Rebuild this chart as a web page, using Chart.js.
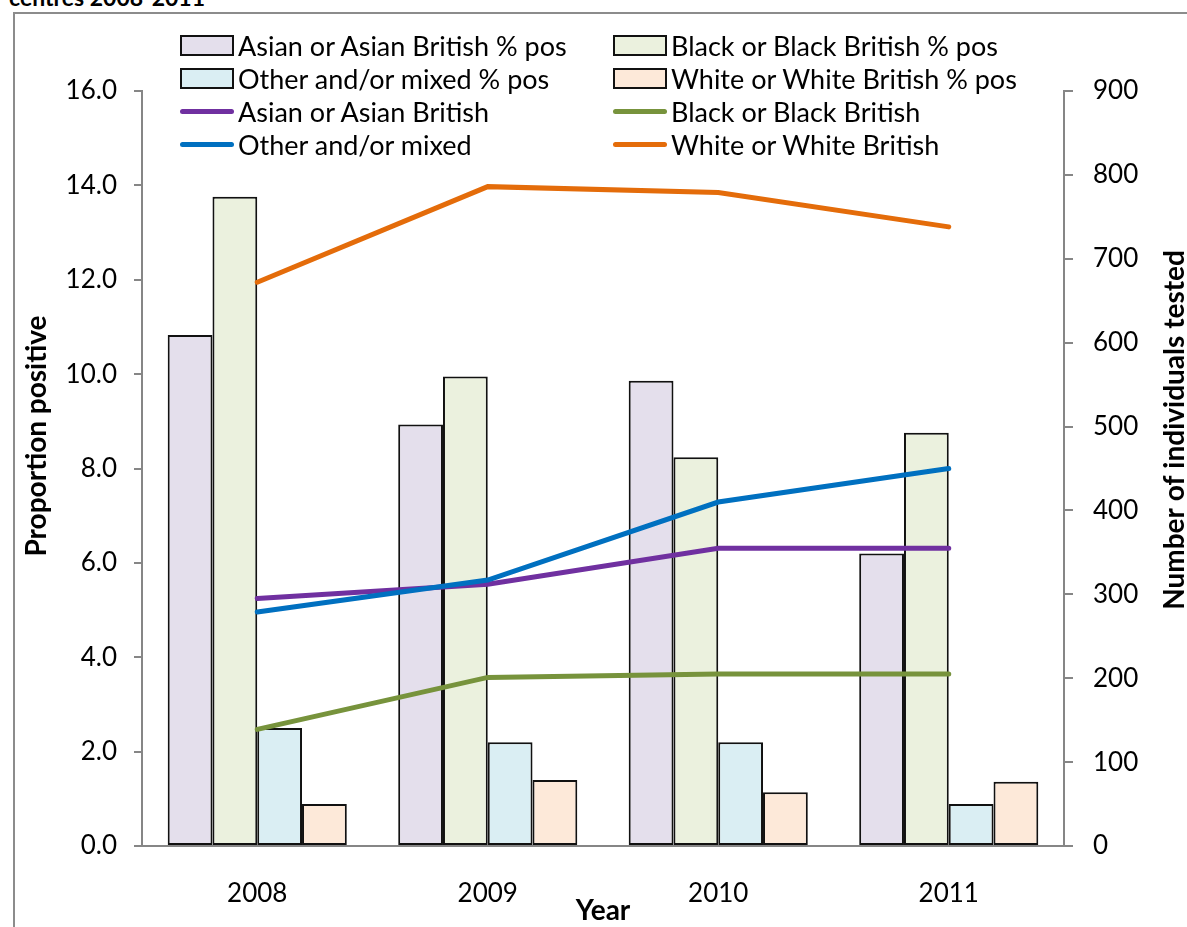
<!DOCTYPE html>
<html>
<head>
<meta charset="utf-8">
<script src="https://cdn.jsdelivr.net/npm/chart.js@4.4.1/dist/chart.umd.min.js"></script>
<style>
  body { margin: 0; background: #fff; font-family: Lato, sans-serif; }
  #wrap { position: relative; width: 1187px; height: 927px; overflow: hidden; }
  #frame { position: absolute; left: 13px; top: 12px; width: 1200px; height: 940px;
           border-left: 2px solid #8c8c8c; border-top: 2px solid #8c8c8c; }
  #caption { position: absolute; left: 9px; top: -14px; font: bold 23px/22px Lato, sans-serif; color: #000; }
  #chart { position: absolute; left: 0; top: 0; }
  #legend { position: absolute; left: 0; top: 0; }
  .item { position: absolute; height: 30px; display: flex; align-items: center; font-size: 27px; white-space: nowrap; color: #000; }
  .box { width: 50px; height: 17px; border: 2px solid #111; margin-right: 4px; }
  .stroke { width: 54px; height: 5px; border-radius: 3px; margin-right: 4px; }
</style>
</head>
<body>
<div id="wrap">
  <div id="frame"></div>
  <div id="caption">centres 2008-2011</div>
  <canvas id="chart" width="1187" height="927"></canvas>
  <div id="legend"></div>
</div>
<script>
const years = ["2008", "2009", "2010", "2011"];

// proportion positive (%), left axis
const asianPos = [10.83, 8.93, 9.86, 6.20];
const blackPos = [13.76, 9.95, 8.24, 8.76];
const otherPos = [2.50, 2.20, 2.20, 0.89];
const whitePos = [0.89, 1.40, 1.14, 1.36];

// number of individuals tested, right axis
const asianTested = [295, 312, 355, 355];
const blackTested = [139, 201, 205, 205];
const otherTested = [279, 317, 410, 450];
const whiteTested = [672, 786, 779, 738];

const leftTicks = [0, 2, 4, 6, 8, 10, 12, 14, 16];
const rightTicks = [0, 100, 200, 300, 400, 500, 600, 700, 800, 900];

const axisGrey = "#868686";
const tickFont = { family: "Lato", size: 26 };
const titleFont = { family: "Lato", size: 28, weight: "bold", lineHeight: 1 };

const bar = (label, data, color) => ({
  type: "bar", label, data, yAxisID: "y",
  backgroundColor: color, borderColor: "#111", borderWidth: 2, borderSkipped: false,
  categoryPercentage: 0.777, barPercentage: 1.0, order: 10,
});
const line = (label, data, color, order) => ({
  type: "line", label, data, yAxisID: "y1",
  borderColor: color, backgroundColor: color, borderWidth: 5, borderCapStyle: "round",
  tension: 0, pointRadius: 0, fill: false, order,
});

// rotated titles for both value axes (both read bottom-to-top)
const sideTitles = {
  id: "sideTitles",
  afterDraw(chart) {
    const ctx = chart.ctx;
    const draw = (text, x, y) => {
      ctx.save();
      ctx.translate(x, y);
      ctx.rotate(-Math.PI / 2);
      ctx.font = "bold 28px Lato";
      ctx.fillStyle = "#000";
      ctx.textAlign = "center";
      ctx.textBaseline = "middle";
      ctx.fillText(text, 0, 0);
      ctx.restore();
    };
    draw("Proportion positive", 37, 436);
    draw("Number of individuals tested", 1175, 430);
  },
};

const chart = new Chart(document.getElementById("chart").getContext("2d"), {
  data: {
    labels: years,
    datasets: [
      bar("Asian or Asian British % pos", asianPos, "#e4dfec"),
      bar("Black or Black British % pos", blackPos, "#ebf1de"),
      bar("Other and/or mixed % pos", otherPos, "#daeef3"),
      bar("White or White British % pos", whitePos, "#fde9d9"),
      line("Asian or Asian British", asianTested, "#7030a0", 4),
      line("Black or Black British", blackTested, "#77933c", 3),
      line("Other and/or mixed", otherTested, "#0070c0", 2),
      line("White or White British", whiteTested, "#e46c0a", 1),
    ],
  },
  options: {
    responsive: false,
    animation: false,
    layout: { padding: { top: 91, left: 0, right: 0, bottom: 0 } },
    plugins: { legend: { display: false }, tooltip: { enabled: false } },
    scales: {
      x: {
        grid: { display: false },
        border: { color: axisGrey, width: 2 },
        ticks: { font: tickFont, color: "#000", padding: 24 },
        title: { display: true, text: "Year", font: titleFont, color: "#000", padding: { top: 0, bottom: 2 } },
        afterFit: (scale) => { scale.height = 81; },
      },
      y: {
        position: "left",
        min: leftTicks[0],
        max: leftTicks[leftTicks.length - 1],
        afterBuildTicks: (scale) => { scale.ticks = leftTicks.map((v) => ({ value: v })); },
        grid: { drawOnChartArea: false, drawTicks: true, tickLength: 8, color: axisGrey, lineWidth: 2 },
        border: { color: axisGrey, width: 2 },
        ticks: { font: tickFont, color: "#000", padding: 17, callback: (v) => v.toFixed(1) },
        afterFit: (scale) => { scale.width = 142; },
      },
      y1: {
        position: "right",
        min: rightTicks[0],
        max: rightTicks[rightTicks.length - 1],
        afterBuildTicks: (scale) => { scale.ticks = rightTicks.map((v) => ({ value: v })); },
        grid: { drawOnChartArea: false, drawTicks: true, tickLength: 9, color: axisGrey, lineWidth: 2 },
        border: { color: axisGrey, width: 2 },
        ticks: { font: tickFont, color: "#000", padding: 20 },
        afterFit: (scale) => { scale.width = 123; },
      },
    },
  },
  plugins: [sideTitles],
});

// two-column legend laid over the top of the plot
const legend = document.getElementById("legend");
chart.data.datasets.forEach((ds, i) => {
  const col = i % 2;
  const row = Math.floor(i / 2);
  const item = document.createElement("div");
  item.className = "item";
  item.style.left = (col ? 613 : 180) + "px";
  item.style.top = (30 + row * 33.3) + "px";
  const sw = document.createElement("div");
  if (ds.type === "bar") {
    sw.className = "box";
  } else {
    sw.className = "stroke";
  }
  sw.style.background = ds.backgroundColor;
  item.appendChild(sw);
  item.appendChild(document.createTextNode(ds.label));
  legend.appendChild(item);
});
</script>
</body>
</html>
